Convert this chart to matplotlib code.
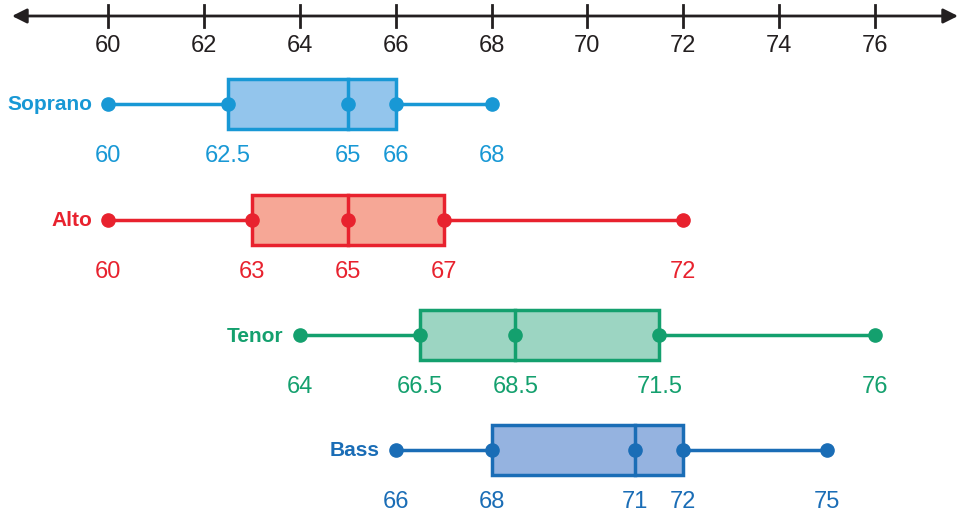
import matplotlib
matplotlib.use("Agg")
import matplotlib.pyplot as plt
from matplotlib.patches import Rectangle

voices = ["Soprano", "Alto", "Tenor", "Bass"]
mins = [60, 60, 64, 66]
q1s = [62.5, 63, 66.5, 68]
medians = [65, 65, 68.5, 71]
q3s = [66, 67, 71.5, 72]
maxs = [68, 72, 76, 75]
value_labels = [
    ["60", "62.5", "65", "66", "68"],
    ["60", "63", "65", "67", "72"],
    ["64", "66.5", "68.5", "71.5", "76"],
    ["66", "68", "71", "72", "75"],
]
axis_ticks = list(range(60, 77, 2))

line_colors = ["#1898d5", "#e8222e", "#14a06e", "#1a6db6"]
fill_colors = ["#93c5ec", "#f6a796", "#9cd5c2", "#95b3e0"]

plt.rcParams['font.family'] = ['Liberation Sans Narrow', 'Liberation Sans', 'DejaVu Sans']

W, H = 965, 517
fig = plt.figure(figsize=(W / 100, H / 100), dpi=100)
ax = fig.add_axes([0, 0, 1, 1])
px = 767 / 16.0  # pixels per unit
x0 = 60 - 108 / px
ax.set_xlim(x0, x0 + W / px)
ax.set_ylim(H, 0)
ax.axis('off')

# number line
axis_y = 16
ax.annotate("", xy=(x0 + 12 / px, axis_y), xytext=(x0 + 958 / px, axis_y),
            arrowprops=dict(arrowstyle='<|-|>', color='#231f20', lw=2,
                            mutation_scale=22, shrinkA=0, shrinkB=0))
for t in axis_ticks:
    ax.plot([t, t], [5, 27], color='#231f20', lw=2)
    ax.text(t, 46, str(t), ha='center', va='center', fontsize=17, color='#231f20')

row_y = [104, 220, 335, 450]
half_h = 25
label_dy = 52
for i, v in enumerate(voices):
    y = row_y[i]
    c = line_colors[i]
    ax.plot([mins[i], q1s[i]], [y, y], color=c, lw=2.5, zorder=2)
    ax.plot([q3s[i], maxs[i]], [y, y], color=c, lw=2.5, zorder=2)
    ax.add_patch(Rectangle((q1s[i], y - half_h), q3s[i] - q1s[i], 2 * half_h,
                           facecolor=fill_colors[i], edgecolor=c, lw=2.5, zorder=2))
    ax.plot([medians[i], medians[i]], [y - half_h, y + half_h], color=c, lw=2.5, zorder=3)
    vals = [mins[i], q1s[i], medians[i], q3s[i], maxs[i]]
    ax.plot(vals, [y] * 5, 'o', color=c, markersize=9.5, zorder=4)
    for val, lab in zip(vals, value_labels[i]):
        ax.text(val, y + label_dy, lab, ha='center', va='center', fontsize=17, color=c)
    ax.text(mins[i] - 16 / px, y + 1, v, ha='right', va='center', fontsize=15,
            fontweight='bold', color=c)

fig.savefig("out.png", dpi=100)
